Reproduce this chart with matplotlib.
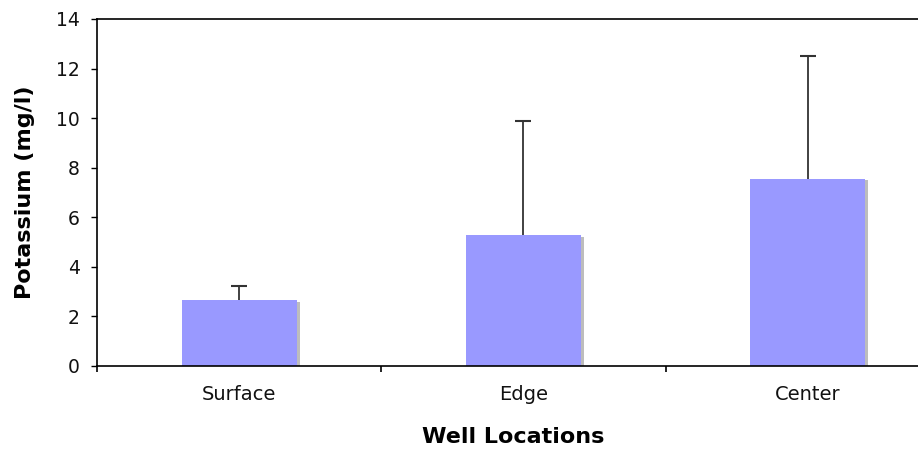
import numpy as np
import matplotlib.pyplot as plt
import matplotlib.patheffects as pe

locations = ["Surface", "Edge", "Center"]
potassium = [2.65, 5.27, 7.55]
potassium_err = [0.58, 4.63, 4.97]

BAR_COLOR = "#9999ff"


def plot_potassium(names, means, errs):
    fig = plt.figure(figsize=(9.18, 4.49), dpi=100)
    ax = fig.add_axes([0.1057, 0.1849, 0.929, 0.7728])

    x = np.arange(len(names))
    means = np.asarray(means)
    errs = np.asarray(errs)
    bars = ax.bar(x, means, width=0.405, color=BAR_COLOR, zorder=2)
    for b in bars:
        b.set_path_effects([
            pe.SimplePatchShadow(offset=(2.2, -1), shadow_rgbFace="#888888", alpha=0.55),
            pe.Normal(),
        ])

    # plus-only error bars: stem up from the bar top, cap at the end
    ax.vlines(x, means, means + errs, color="#333333", lw=1.3, zorder=3)
    ax.plot(x, means + errs, ls="none", marker="_", ms=12, mew=1.5,
            color="#333333", zorder=3)

    ax.set_xlim(-0.5, len(names) - 0.5)
    ax.set_ylim(0, 14)
    ax.set_yticks(np.arange(0, 15, 2))
    ax.set_xticks(x)
    ax.set_xticklabels(names)
    ax.set_xticks(np.arange(-0.5, len(names)), minor=True)

    ax.tick_params(axis="y", direction="out", length=4.5, width=1, labelsize=13.5,
                   pad=8, labelcolor="#111111")
    ax.tick_params(axis="x", which="major", length=0, labelsize=14, pad=14,
                   labelcolor="#111111")
    ax.tick_params(axis="x", which="minor", direction="out", length=4, width=1.2)

    for side in ("left", "bottom", "top"):
        ax.spines[side].set_linewidth(1.2)
        ax.spines[side].set_color("black")
    ax.spines["right"].set_visible(False)

    fig.text(25 / 918, 1 - 192 / 449, "Potassium (mg/l)", fontsize=16,
             fontweight="bold", rotation=90, ha="center", va="center")
    fig.text(513 / 918, 1 - 437 / 449, "Well Locations", fontsize=16,
             fontweight="bold", ha="center", va="center")

    fig.savefig("out.png", dpi=100)


if __name__ == "__main__":
    plot_potassium(locations, potassium, potassium_err)
